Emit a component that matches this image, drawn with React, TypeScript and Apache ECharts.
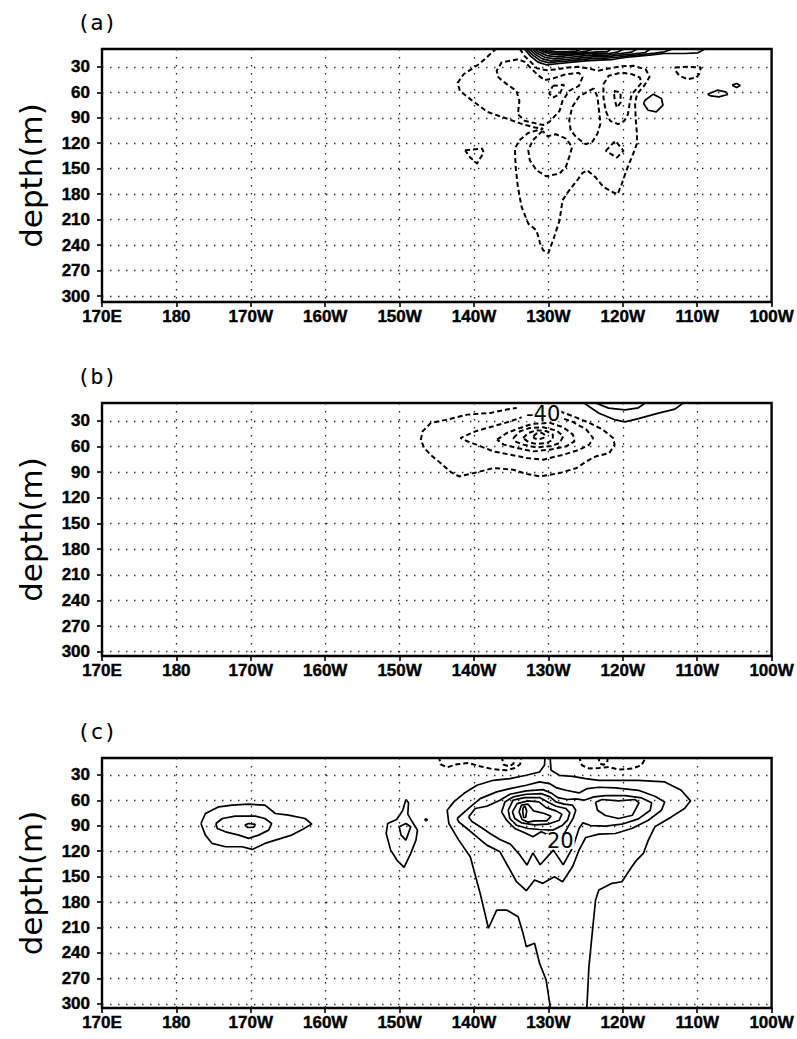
import React, { useEffect, useRef } from "react";
import * as echarts from "echarts";

type Pt = [number, number];

// ---- axes ----
const LON_MIN = 170;
const LON_MAX = 260;
const LON_TICKS = [170, 180, 190, 200, 210, 220, 230, 240, 250, 260];
const LON_LABELS = ["170E", "180", "170W", "160W", "150W", "140W", "130W", "120W", "110W", "100W"];
const GRID_LONS = [180, 190, 200, 210, 220, 230, 240, 250];
const DEPTH_TICKS = [30, 60, 90, 120, 150, 180, 210, 240, 270, 300];
const DEPTH_RANGES: Pt[] = [
  [9, 307],
  [9, 305],
  [10, 305],
];
const PANEL_TAGS = ["(a)", "(b)", "(c)"];

// ---- panel (a): contour lines, [longitude (deg E), depth (m)] ----
const A_OUTER: Pt[] = [
  [223.05, 8], [220.8, 26.1], [218.6, 38.7], [217.8, 48.9], [218.1, 58.3], [219.7, 69.3], [221.8, 83.1],
  [224.4, 90.9], [226.5, 97.5], [228.2, 101.5], [229.3, 102.8], [227.3, 107.8], [226.1, 116.5], [225.5, 126.3],
  [225.6, 147.9], [225.9, 171.5], [226.4, 195.1], [227.3, 214.7], [228.4, 222.6], [228.9, 238.3], [229.3, 246.2],
  [230.0, 249.3], [230.7, 232.4], [231.5, 210.8], [231.9, 187.2], [232.8, 175.4], [233.7, 165.6], [234.6, 155.0],
  [235.2, 151.8], [236.3, 159.7], [237.4, 171.5], [238.6, 177.4], [239.3, 180.1], [239.8, 169.5], [240.5, 151.8],
  [241.4, 132.2], [241.9, 120.4], [241.9, 108.6], [241.75, 92.9], [241.65, 74.0], [241.9, 62.2], [242.9, 52.0],
  [243.6, 41.8], [243.1, 33.1], [241.4, 28.8], [239.9, 29.2], [238.1, 32.0], [236.6, 34.7], [235.5, 32.0],
  [234.1, 30.0], [232.6, 30.8], [231.0, 33.1], [229.7, 33.9], [228.45, 31.6], [227.6, 24.1], [226.8, 17.4],
  [226.1, 8],
];
const A_LOBE: Pt[] = [
  [225.9, 21.0], [223.7, 24.9], [223.05, 34.7], [223.3, 42.6], [224.4, 50.4], [225.7, 58.3], [226.1, 70.1],
  [225.9, 85.8], [226.8, 93.5], [228.5, 97.0], [229.3, 98.5], [230.1, 95.2], [231.5, 81.9], [231.9, 70.1],
  [232.8, 58.3], [234.1, 52.4], [234.6, 42.2], [234.1, 37.1], [232.35, 38.7], [230.6, 43.8], [229.5, 45.7],
  [228.6, 39.8], [227.7, 32.0], [226.8, 24.1], [225.9, 21.0],
];
const A_LOBE_CORE: Pt[] = [[230.6, 52.4], [232.1, 51.2], [231.5, 62.2], [230.6, 66.2], [230.1, 61.4], [230.6, 52.4]];
const A_MID: Pt[] = [
  [236.1, 55.5], [235.2, 59.5], [234.1, 65.4], [233.2, 77.2], [232.8, 92.9], [233.0, 104.7], [233.7, 112.5],
  [235.0, 121.2], [235.9, 118.4], [236.6, 108.6], [237.0, 96.8], [236.8, 81.1], [236.6, 65.4], [236.1, 55.5],
];
const A_DEEP: Pt[] = [
  [229.2, 105.5], [227.9, 116.5], [227.3, 128.3], [227.5, 140.0], [228.4, 151.8], [229.7, 158.9], [231.5, 155.8],
  [232.35, 147.9], [232.8, 136.1], [233.2, 124.3], [232.35, 114.5], [231.0, 109.4], [229.9, 111.7], [229.2, 105.5],
];
const A_EAST: Pt[] = [
  [237.4, 50.4], [238.1, 40.6], [239.8, 36.7], [241.2, 38.6], [242.3, 42.6], [242.5, 48.9], [241.9, 55.5],
  [241.2, 62.2], [240.9, 74.0], [240.7, 85.8], [240.2, 93.7], [239.4, 97.6], [238.3, 93.7], [237.7, 81.9],
  [237.4, 66.2], [237.4, 50.4],
];
const A_EAST_CORE: Pt[] = [[238.8, 58.3], [239.7, 60.3], [239.7, 72.1], [239.2, 78.0], [238.9, 68.1], [238.8, 58.3]];
const A_SPOT_120W: Pt[] = [[237.7, 129.0], [239.0, 117.2], [240.1, 129.0], [239.2, 136.9], [237.7, 129.0]];
const A_SPOT_140W: Pt[] = [[218.8, 128.3], [221.1, 126.3], [221.3, 131.0], [220.4, 144.0], [219.5, 136.9], [218.8, 128.3]];
const A_SPOT_110W: Pt[] = [
  [247.0, 30.8], [248.7, 30.0], [250.5, 30.8], [250.3, 37.9], [249.9, 42.6], [248.7, 44.5], [247.6, 40.6],
  [247.1, 34.7], [247.0, 30.8],
];

const A_SURF_0: Pt[] = [
  [226.7, 8], [227.6, 17.4], [228.6, 24.5], [229.7, 27.6], [231.5, 26.1], [233.2, 24.5], [235.0, 22.9],
  [236.8, 22.1], [238.6, 21.4], [240.3, 19.0], [242.1, 17.4], [243.9, 15.9], [245.6, 14.3], [248.3, 14.3],
  [250.1, 13.5], [251.2, 8],
];
const A_SURF_1: Pt[] = [
  [227.0, 8], [227.9, 16.2], [228.9, 22.5], [230.0, 25.0], [231.9, 23.7], [233.7, 22.1], [235.5, 20.6],
  [237.2, 20.2], [239.0, 19.0], [240.8, 17.0], [242.5, 15.5], [244.3, 13.9], [245.6, 12.3], [247.0, 8],
];
const A_SURF_2: Pt[] = [
  [227.35, 8], [228.2, 15.1], [229.2, 20.6], [230.4, 22.9], [232.4, 21.4], [234.1, 19.8], [235.9, 18.2],
  [237.7, 18.2], [239.4, 16.6], [241.2, 15.1], [243.0, 13.1], [243.9, 8],
];
const A_SURF_3: Pt[] = [
  [227.7, 8], [228.5, 14.0], [229.5, 18.7], [230.8, 20.6], [232.6, 19.0], [234.3, 17.4], [236.1, 15.9],
  [237.9, 16.2], [239.7, 14.3], [241.2, 12.7], [242.1, 8],
];
const A_SURF_4: Pt[] = [
  [228.05, 8], [228.8, 12.9], [229.8, 16.8], [231.2, 18.2], [232.8, 16.6], [234.6, 15.1], [236.3, 13.9],
  [238.1, 14.3], [239.4, 12.3], [240.3, 8],
];
const A_SURF_5: Pt[] = [
  [228.4, 8], [229.1, 11.8], [230.2, 14.9], [231.5, 15.9], [233.0, 14.7], [234.8, 13.5], [236.6, 12.3],
  [237.9, 12.3], [238.6, 8],
];
const A_SURF_6: Pt[] = [[228.75, 8], [229.4, 11.0], [230.5, 13.5], [231.9, 13.9], [233.5, 13.1], [235.0, 11.9], [236.3, 8]];
const A_SURF_7: Pt[] = [[229.1, 8], [229.9, 10.6], [231.0, 12.3], [232.4, 12.3], [233.7, 11.5], [234.6, 8]];
const A_RING_116W: Pt[] = [
  [243.0, 69.3], [244.1, 62.2], [245.2, 67.3], [245.4, 75.2], [244.5, 83.1], [243.4, 81.1], [242.8, 73.2], [243.0, 69.3],
];
const A_RING_107W: Pt[] = [[251.4, 62.2], [252.7, 57.5], [253.8, 59.5], [254.1, 62.6], [252.9, 65.4], [251.8, 64.2], [251.4, 62.2]];
const A_RING_105W: Pt[] = [[254.7, 51.6], [255.3, 49.7], [255.8, 52.0], [255.3, 54.4], [254.7, 51.6]];

// ---- panel (b) ----
const B_RING_1: Pt[] = [
  [231.5, 18.6], [233.3, 24.5], [235.5, 32.3], [237.3, 40.1], [238.7, 49.9], [238.9, 57.7], [238.2, 67.5],
  [236.4, 71.4], [235.1, 77.3], [233.8, 85.1], [231.5, 91.0], [228.9, 94.9], [227.1, 92.1], [225.3, 87.1],
  [222.6, 85.1], [220.0, 91.0], [218.0, 94.9], [216.9, 89.8], [215.5, 79.2], [214.4, 71.4], [213.3, 61.7],
  [212.85, 51.9], [213.1, 42.1], [214.2, 32.3], [216.4, 28.4], [219.1, 22.6], [222.2, 20.6], [224.4, 16.7],
  [225.75, 14.7],
];
const B_RING_2: Pt[] = [
  [231.1, 24.5], [233.3, 31.2], [235.1, 40.1], [236.0, 49.9], [235.5, 57.7], [234.2, 63.6], [232.0, 69.5],
  [229.3, 75.3], [227.1, 73.4], [224.9, 69.5], [222.6, 65.6], [220.9, 59.7], [219.1, 53.8], [218.2, 49.9],
  [220.2, 42.1], [222.6, 36.2], [224.9, 30.4], [226.4, 25.7],
];
const B_RING_3: Pt[] = [
  [223.1, 51.9], [224.4, 44.1], [226.2, 38.2], [227.8, 33.5], [230.2, 32.3], [232.0, 37.4], [233.3, 46.0],
  [233.5, 53.8], [232.4, 59.7], [230.2, 63.6], [228.0, 65.6], [225.8, 61.7], [224.0, 57.7], [223.1, 51.9],
];
const B_RING_4: Pt[] = [
  [225.3, 49.9], [226.2, 42.1], [227.5, 38.2], [229.3, 37.4], [231.1, 41.3], [232.0, 48.0], [231.5, 55.8],
  [230.2, 59.7], [228.4, 60.9], [226.6, 57.7], [225.5, 53.8], [225.3, 49.9],
];
const B_RING_5: Pt[] = [
  [226.6, 49.9], [227.3, 44.1], [228.4, 40.9], [229.8, 42.1], [230.6, 46.0], [230.6, 51.9], [229.8, 55.8],
  [228.4, 57.0], [227.3, 54.6], [226.6, 49.9],
];
const B_RING_6: Pt[] = [[228.0, 48.0], [228.4, 44.8], [229.1, 44.0], [229.6, 46.5], [229.3, 50.0], [228.6, 51.5], [228.1, 50.3], [228.0, 48.0]];
const B_SURF_0: Pt[] = [[234.6, 8], [236.8, 20.9], [239.0, 28.8], [240.3, 31.1], [242.1, 27.2], [244.8, 20.9], [247.0, 16.2], [248.3, 8]];
const B_SURF_1: Pt[] = [[236.1, 8], [238.1, 15.0], [240.3, 17.0], [242.1, 14.6], [243.2, 8]];

// ---- panel (c) ----
const C_NEG_WEST: Pt[] = [
  [215.3, 8], [215.5, 17.4], [216.4, 21.0], [217.7, 17.4], [219.3, 15.9], [220.8, 19.8], [222.6, 23.3],
  [224.4, 24.5], [225.5, 21.7], [226.2, 17.4], [226.4, 8],
];
const C_NEG_WEST_BUMP: Pt[] = [[223.7, 8], [224.0, 18.0], [224.7, 19.8], [225.3, 17.0], [225.5, 8]];
const C_NEG_EAST: Pt[] = [
  [234.1, 8], [234.5, 18.6], [235.5, 22.5], [236.8, 21.7], [238.1, 20.6], [239.4, 23.7], [241.2, 22.5],
  [242.5, 18.6], [243.2, 8],
];
const C_NEG_EAST_BUMP: Pt[] = [[236.7, 8], [236.9, 16.5], [237.4, 18.0], [237.9, 15.5], [238.0, 8]];

const C_OUTER_W: Pt[] = [
  [229.56, 8], [229.47, 18.6], [228.81, 26.5], [227.03, 30.4], [224.82, 34.3], [222.6, 36.3], [220.39, 42.2],
  [218.62, 52.0], [217.29, 61.8], [216.4, 71.6], [216.62, 87.3], [217.95, 106.9], [219.5, 126.6], [220.83, 169.8],
  [221.94, 210.9], [223.05, 189.4], [224.38, 189.4], [225.93, 197.2], [226.59, 216.9], [227.03, 232.6],
  [228.14, 228.6], [228.81, 252.2], [229.69, 271.8], [230.36, 310],
];
const C_OUTER_E: Pt[] = [
  [230.22, 8], [230.36, 24.5], [231.46, 30.4], [233.24, 31.6], [235.01, 34.3], [236.78, 36.3], [239.0, 36.3],
  [242.1, 36.3], [245.64, 38.2], [247.86, 48.1], [249.1, 60.6], [248.3, 69.6], [246.53, 79.5], [244.31, 91.2],
  [243.43, 106.9], [242.76, 122.6], [241.87, 130.5], [241.21, 138.4], [239.88, 156.0], [238.55, 157.9],
  [236.78, 165.8], [236.34, 177.6], [235.89, 216.9], [235.45, 256.1], [235.14, 310],
];
const C_RING_2: Pt[] = [
  [217.73, 81.4], [219.5, 67.7], [220.83, 57.9], [223.05, 50.0], [224.82, 46.1], [227.03, 42.2], [228.81, 38.2],
  [230.14, 40.2], [231.02, 44.9], [232.35, 48.1], [234.12, 51.2], [235.23, 46.1], [236.78, 44.5], [239.0, 45.3],
  [242.1, 48.1], [244.31, 55.1], [245.64, 61.8], [245.2, 71.6], [243.43, 83.4], [241.21, 93.2], [239.0, 99.1],
  [236.78, 99.9], [235.01, 103.8], [234.12, 118.7], [233.24, 138.3], [231.91, 156.0], [230.8, 150.1],
  [229.25, 157.9], [228.14, 154.0], [227.03, 166.6], [225.71, 156.0], [224.6, 138.3], [223.49, 120.7],
  [221.72, 112.8], [220.39, 103.0], [219.06, 93.2], [217.95, 85.3], [217.73, 81.4],
];
const C_RING_3: Pt[] = [
  [219.28, 79.5], [220.17, 69.6], [221.72, 66.9], [223.49, 59.8], [224.82, 52.8], [227.03, 48.8], [229.25, 47.3],
  [230.36, 51.2], [231.24, 56.7], [232.57, 59.0], [233.68, 58.3], [234.79, 59.8], [236.12, 55.9], [237.67, 54.3],
  [240.32, 54.3], [242.54, 57.1], [243.87, 62.9], [243.69, 71.6], [242.1, 81.8], [239.88, 88.1], [237.67, 90.4],
  [235.67, 89.7], [234.65, 86.5], [234.12, 93.2], [233.32, 114.8], [231.99, 136.0], [230.67, 118.7],
  [228.89, 136.0], [227.92, 121.9], [227.12, 136.4], [226.06, 123.4], [224.91, 111.7], [223.49, 106.2],
  [222.16, 99.1], [220.83, 91.2], [219.72, 85.0], [219.28, 79.5],
];
const C_RING_4: Pt[] = [
  [223.71, 73.6], [224.15, 61.8], [225.26, 55.9], [227.03, 52.8], [229.03, 52.0], [230.22, 55.9], [231.02, 61.8],
  [232.13, 64.5], [233.24, 65.7], [233.68, 71.6], [233.32, 81.4], [232.7, 90.4], [232.13, 99.1], [231.55, 103.0],
  [231.02, 103.8], [230.05, 101.0], [229.03, 97.1], [227.92, 103.0], [226.81, 98.3], [225.48, 93.2],
  [224.38, 83.4], [223.71, 73.6],
];
const C_RING_5: Pt[] = [
  [224.6, 71.6], [225.26, 59.8], [226.81, 56.7], [228.81, 56.7], [229.91, 61.8], [231.02, 66.9], [232.35, 69.6],
  [232.88, 74.7], [232.57, 83.4], [231.91, 89.3], [230.58, 95.2], [228.81, 94.4], [227.26, 93.2], [225.71, 89.3],
  [224.82, 81.4], [224.6, 71.6],
];
const C_RING_6: Pt[] = [
  [225.17, 73.6], [225.79, 63.8], [227.26, 60.6], [228.72, 61.8], [229.69, 68.5], [231.02, 72.4], [231.82, 76.3],
  [231.46, 83.4], [229.91, 88.1], [228.14, 88.9], [226.37, 86.5], [225.48, 81.4], [225.17, 73.6],
];
const C_RING_7: Pt[] = [
  [226.06, 73.6], [226.37, 65.7], [227.26, 64.5], [228.01, 72.4], [229.47, 75.5], [230.36, 78.7], [229.78, 84.2],
  [228.14, 84.2], [227.26, 85.7], [226.46, 82.6], [226.06, 73.6],
];
const C_RING_8: Pt[] = [[226.59, 68.5], [226.86, 66.9], [227.08, 72.4], [226.95, 80.2], [226.68, 80.2], [226.55, 73.6], [226.59, 68.5]];
const C_EAST_CORE: Pt[] = [
  [236.34, 62.2], [237.22, 59.0], [239.44, 60.6], [241.65, 59.0], [242.18, 62.9], [241.3, 77.5], [239.44, 81.4],
  [237.67, 77.9], [236.6, 71.6], [236.34, 62.2],
];
const C_DATELINE_1: Pt[] = [
  [183.3, 87.3], [183.9, 75.5], [185.7, 67.6], [187.5, 65.7], [189.7, 64.5], [191.9, 65.7], [193.3, 75.5],
  [195.05, 77.4], [197.3, 81.4], [198.2, 88.0], [196.8, 95.1], [195.5, 101.0], [193.3, 106.9], [191.9, 110.8],
  [190.2, 117.9], [188.8, 114.7], [186.6, 114.7], [184.8, 110.8], [183.9, 101.0], [183.3, 87.3],
];
const C_DATELINE_2: Pt[] = [
  [185.3, 87.3], [186.2, 81.4], [187.9, 78.6], [190.6, 78.6], [191.9, 81.4], [192.8, 87.3], [192.4, 95.1],
  [191.05, 101.0], [189.7, 104.9], [188.4, 101.0], [186.6, 97.1], [185.5, 93.1], [185.3, 87.3],
];
const C_DATELINE_3: Pt[] = [[189.2, 89.2], [189.7, 87.3], [190.6, 88.4], [190.4, 91.6], [189.6, 92.0], [189.2, 89.2]];
const C_150W_1: Pt[] = [
  [210.85, 59.0], [210.4, 72.3], [209.6, 82.5], [208.4, 87.3], [208.2, 99.0], [208.8, 118.7], [209.7, 131.2],
  [210.6, 139.1], [211.5, 122.6], [212.2, 106.9], [212.4, 95.1], [211.7, 85.3], [211.1, 76.3], [211.2, 62.9],
  [210.85, 59.0],
];
const C_150W_2: Pt[] = [[209.95, 91.2], [210.85, 87.3], [211.5, 91.2], [210.85, 106.9], [210.2, 101.0], [209.95, 91.2]];
const C_148W_DOT: Pt[] = [[213.55, 81.5], [213.75, 82.8], [213.55, 84.2], [213.4, 82.8], [213.55, 81.5]];

// contour labels: position and level
const B_LABELS = [{ lon: 229.3, depth: 21.5, level: -40 }];
const C_LABELS = [{ lon: 231.6, depth: 108.5, level: 20 }];

const PANELS = [
  {
    dashed: [A_OUTER, A_LOBE, A_LOBE_CORE, A_MID, A_DEEP, A_EAST, A_EAST_CORE, A_SPOT_120W, A_SPOT_140W, A_SPOT_110W],
    solid: [A_SURF_0, A_SURF_1, A_SURF_2, A_SURF_3, A_SURF_4, A_SURF_5, A_SURF_6, A_SURF_7, A_RING_116W, A_RING_107W, A_RING_105W],
    labels: [] as { lon: number; depth: number; level: number }[],
  },
  {
    dashed: [B_RING_1, B_RING_2, B_RING_3, B_RING_4, B_RING_5, B_RING_6],
    solid: [B_SURF_0, B_SURF_1],
    labels: B_LABELS,
  },
  {
    dashed: [C_NEG_WEST, C_NEG_WEST_BUMP, C_NEG_EAST, C_NEG_EAST_BUMP],
    solid: [
      C_OUTER_W, C_OUTER_E, C_RING_2, C_RING_3, C_RING_4, C_RING_5, C_RING_6, C_RING_7, C_RING_8, C_EAST_CORE,
      C_DATELINE_1, C_DATELINE_2, C_DATELINE_3, C_150W_1, C_150W_2, C_148W_DOT,
    ],
    labels: C_LABELS,
  },
];

// ---- layout ----
const PLOT_LEFT = 102;
const PLOT_WIDTH = 674;
const PLOT_TOPS = [49, 403, 758];
const PLOT_HEIGHTS = [253, 253, 250];

const TICK_FONT = {
  color: "#000",
  fontSize: 17,
  fontWeight: "bold" as const,
  fontFamily: "Liberation Sans, Arial, sans-serif",
  textBorderColor: "#000",
  textBorderWidth: 0.4,
};

function buildOption() {
  const grid: any[] = [];
  const xAxis: any[] = [];
  const yAxis: any[] = [];
  const series: any[] = [];
  const graphic: any[] = [];

  PANELS.forEach((panel, i) => {
    grid.push({
      left: PLOT_LEFT,
      top: PLOT_TOPS[i],
      width: PLOT_WIDTH,
      height: PLOT_HEIGHTS[i],
      show: true,
      borderColor: "#000",
      borderWidth: 2.4,
      backgroundColor: "#fff",
    });
    xAxis.push({
      type: "value",
      gridIndex: i,
      min: LON_MIN,
      max: LON_MAX,
      interval: 10,
      axisLine: { show: false },
      axisTick: { show: true, length: 5, lineStyle: { color: "#000", width: 1.6 } },
      axisLabel: {
        ...TICK_FONT,
        margin: 6,
        formatter: (v: number) => LON_LABELS[LON_TICKS.indexOf(Math.round(v))] ?? "",
      },
      splitLine: { show: false },
    });
    yAxis.push({
      type: "value",
      gridIndex: i,
      inverse: true,
      min: DEPTH_RANGES[i][0],
      max: DEPTH_RANGES[i][1],
      axisLine: { show: false },
      axisTick: { show: true, length: 5, customValues: DEPTH_TICKS, lineStyle: { color: "#000", width: 1.6 } },
      axisLabel: { ...TICK_FONT, margin: 12, customValues: DEPTH_TICKS },
      splitLine: { show: false },
    });

    // dotted reference grid
    series.push({
      type: "line",
      xAxisIndex: i,
      yAxisIndex: i,
      data: [],
      silent: true,
      markLine: {
        silent: true,
        symbol: ["none", "none"],
        label: { show: false },
        lineStyle: { color: "#222", width: 1.3, type: [1.4, 6.6] },
        emphasis: { disabled: true },
        data: [...DEPTH_TICKS.map((v) => ({ yAxis: v })), ...GRID_LONS.map((v) => ({ xAxis: v }))],
      },
    });

    panel.dashed.forEach((pts) =>
      series.push({
        type: "line",
        xAxisIndex: i,
        yAxisIndex: i,
        data: pts,
        symbol: "none",
        silent: true,
        z: 3,
        lineStyle: { color: "#000", width: 2, type: [5, 3] },
      })
    );
    panel.solid.forEach((pts) =>
      series.push({
        type: "line",
        xAxisIndex: i,
        yAxisIndex: i,
        data: pts,
        symbol: "none",
        silent: true,
        z: 3,
        lineStyle: { color: "#000", width: 1.7 },
      })
    );
    if (panel.labels.length) {
      series.push({
        type: "scatter",
        xAxisIndex: i,
        yAxisIndex: i,
        z: 5,
        silent: true,
        symbolSize: 0,
        itemStyle: { color: "#fff" },
        data: panel.labels.map((l) => ({ value: [l.lon, l.depth], name: String(l.level) })),
        label: {
          show: true,
          position: "inside",
          formatter: (p: any) => p.name,
          color: "#000",
          opacity: 1,
          fontSize: 21,
          lineHeight: 15,
          fontFamily: "DejaVu Sans, sans-serif",
          textBorderWidth: 0,
          backgroundColor: "#fff",
          padding: [0, 1],
        },
      });
    }

    const top = PLOT_TOPS[i];
    const h = PLOT_HEIGHTS[i];
    graphic.push({
      type: "text",
      x: 77,
      y: top - 27,
      style: {
        text: PANEL_TAGS[i],
        fill: "#000",
        font: "22px 'DejaVu Sans Mono', monospace",
        textAlign: "left",
        textVerticalAlign: "middle",
      },
    });
    graphic.push({
      type: "text",
      x: 31,
      y: top + h / 2,
      rotation: Math.PI / 2,
      style: {
        text: "depth(m)",
        fill: "#000",
        font: "31px 'DejaVu Sans', sans-serif",
        textAlign: "center",
        textVerticalAlign: "middle",
      },
    });
  });

  return { animation: false, backgroundColor: "#fff", grid, xAxis, yAxis, series, graphic };
}

export default function App() {
  const ref = useRef<HTMLDivElement>(null);
  useEffect(() => {
    if (!ref.current) return;
    const chart = echarts.init(ref.current, null, { renderer: "svg" });
    chart.setOption(buildOption());
    return () => chart.dispose();
  }, []);
  return (
    <div
      ref={ref}
      style={{ position: "absolute", left: 0, top: 0, width: 797, height: 1039, background: "#fff" }}
    />
  );
}
